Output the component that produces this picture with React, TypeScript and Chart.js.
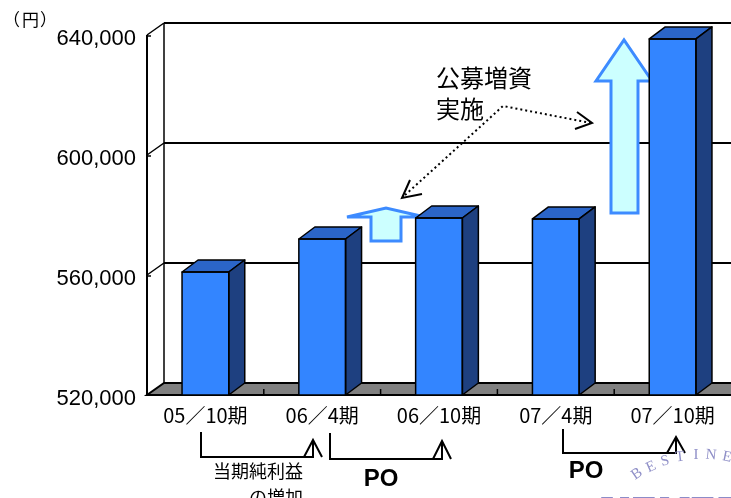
import React, { useEffect, useRef } from "react";
import { Chart, registerables } from "chart.js";

Chart.register(...registerables);

// ---- data ----
const categories = ["05／10期", "06／4期", "06／10期", "07／4期", "07／10期"];
const values = [561000, 572000, 579000, 578700, 638700];
const yTicks = [520000, 560000, 600000, 640000];
const yMin = 520000;
const yMax = 640000;
const yStep = 40000;
const unitParts = ["（", "円", "）"];
const calloutLines = ["公募増資", "実施"];
const noteLines = ["当期純利益", "の増加"];
const poLabel = "PO";
const logoArc = ["B", "E", "S", "T", "I", "N", "E"];
const logoWord = "KENEDIX";

// ---- styles ----
const FRONT = "#3385ff";
const TOP = "#2b65c8";
const SIDE = "#1e4080";
const FLOOR = "#808080";
const ARROW_FILL = "#ccffff";
const ARROW_LINE = "#3d8bff";
const JP = "'Noto Sans CJK JP', sans-serif";
const LAT = "'Liberation Sans', Arial, sans-serif";
const WALL_DX = 17;
const WALL_DY = -12;
const BAR_DX = 16;
const BAR_DY = -12;

function poly(ctx: CanvasRenderingContext2D, pts: number[][], fill?: string, stroke?: string, lw = 1.5) {
  ctx.beginPath();
  ctx.moveTo(pts[0][0], pts[0][1]);
  for (let i = 1; i < pts.length; i++) ctx.lineTo(pts[i][0], pts[i][1]);
  ctx.closePath();
  if (fill) {
    ctx.fillStyle = fill;
    ctx.fill();
  }
  if (stroke) {
    ctx.strokeStyle = stroke;
    ctx.lineWidth = lw;
    ctx.stroke();
  }
}

function line(ctx: CanvasRenderingContext2D, pts: number[][], lw = 1.5, color = "#000") {
  ctx.beginPath();
  ctx.moveTo(pts[0][0], pts[0][1]);
  for (let i = 1; i < pts.length; i++) ctx.lineTo(pts[i][0], pts[i][1]);
  ctx.strokeStyle = color;
  ctx.lineWidth = lw;
  ctx.stroke();
}

const threeD = {
  id: "threeD",
  beforeDatasetsDraw(chart: any) {
    const { ctx, chartArea: ca, scales } = chart;
    const y = scales.y;
    const L = ca.left, R = ca.right, B = ca.bottom, T = ca.top;
    ctx.save();
    ctx.lineJoin = "miter";
    // back wall gridlines + left wall diagonals
    yTicks.forEach((v) => {
      const yf = y.getPixelForValue(v);
      const yb = yf + WALL_DY;
      if (v !== yMin) {
        line(ctx, [[L + WALL_DX, yb], [R + WALL_DX + 20, yb]], 2);
        line(ctx, [[L, yf], [L + WALL_DX, yb]], 1.5);
        line(ctx, [[L, yf + 1], [L + 4, yf + 1]], 1.5);
      }
    });
    // left wall verticals
    line(ctx, [[L, T], [L, B]], 2);
    line(ctx, [[L + WALL_DX, T + WALL_DY], [L + WALL_DX, B + WALL_DY]], 1.5);
    // floor
    poly(ctx, [[L, B], [R + 40, B], [R + 40 + WALL_DX, B + WALL_DY], [L + WALL_DX, B + WALL_DY]], FLOOR, "#000", 2);
    // floor ticks at category boundaries
    const n = categories.length;
    for (let i = 1; i < n; i++) {
      const xb = L + (i * (R - L)) / n;
      line(ctx, [[xb, B], [xb, B - 6]], 1.5);
    }
    // block arrows (behind bars)
    ctx.miterLimit = 3;
    poly(ctx, [[371, 241], [371, 217], [347, 217], [386, 208], [425, 217], [401, 217], [401, 241]], ARROW_FILL, ARROW_LINE, 3);
    poly(ctx, [[611, 213], [611, 81], [596, 81], [624, 40], [652, 81], [638, 81], [638, 213]], ARROW_FILL, ARROW_LINE, 3);
    ctx.restore();
  },
  afterDatasetsDraw(chart: any) {
    const { ctx, chartArea: ca } = chart;
    const meta = chart.getDatasetMeta(0);
    ctx.save();
    ctx.lineJoin = "round";
    meta.data.forEach((bar: any) => {
      const { x, y, base, width } = bar.getProps(["x", "y", "base", "width"], true);
      const b = Math.min(base, ca.bottom);
      const x1 = x - width / 2;
      const x2 = x + width / 2;
      poly(ctx, [[x1, y], [x1 + BAR_DX, y + BAR_DY], [x2 + BAR_DX, y + BAR_DY], [x2, y]], TOP, "#000", 1.5);
      poly(ctx, [[x2, y], [x2 + BAR_DX, y + BAR_DY], [x2 + BAR_DX, b + BAR_DY], [x2, b]], SIDE, "#000", 1.5);
      ctx.strokeStyle = "#000";
      ctx.lineWidth = 1.5;
      ctx.strokeRect(x1, y, width, b - y);
    });
    ctx.restore();
  },
  afterDraw(chart: any) {
    const { ctx } = chart;
    ctx.save();
    ctx.fillStyle = "#000";
    ctx.textBaseline = "middle";
    ctx.textAlign = "left";
    // unit label (proportional spacing like the original)
    ctx.font = `17px ${JP}`;
    ctx.fillText(unitParts[0], 3, 20);
    ctx.fillText(unitParts[1], 22, 20);
    ctx.fillText(unitParts[2], 40, 20);
    // callout text
    ctx.font = `24px ${JP}`;
    ctx.fillText(calloutLines[0], 436, 78);
    ctx.fillText(calloutLines[1], 436, 109);
    // dotted leaders
    ctx.setLineDash([2, 3]);
    line(ctx, [[591, 123], [503, 106], [404, 196]], 2);
    ctx.setLineDash([]);
    line(ctx, [[577, 112], [592, 123], [575, 129]], 2);
    line(ctx, [[410, 180], [402, 198], [422, 194]], 2);
    // brackets
    const brackets = [
      [201, 432, 457, 313, 440],
      [330, 433, 459, 442, 441],
      [563, 429, 453, 676, 437],
    ];
    brackets.forEach(([xs, ys, yh, xe, yt]) => {
      line(ctx, [[xs, ys], [xs, yh], [xe, yh], [xe, yt]], 2);
      line(ctx, [[xe - 9, yh], [xe, yt], [xe + 9, yh]], 2);
    });
    // notes
    ctx.font = `18px ${JP}`;
    ctx.textAlign = "right";
    ctx.fillText(noteLines[0], 303, 471);
    ctx.fillText(noteLines[1], 303, 497);
    ctx.font = `bold 24px ${LAT}`;
    ctx.textAlign = "center";
    ctx.fillText(poLabel, 381, 479);
    ctx.fillText(poLabel, 586, 471);
    // watermark logo
    ctx.fillStyle = "#9090c8";
    ctx.font = `15px 'Liberation Serif', serif`;
    const arcPos = [[637, 474, -0.6], [651, 467, -0.42], [665, 461, -0.26], [680, 457, -0.12], [696, 455, 0], [711, 455, 0.1], [727, 457, 0.2]];
    logoArc.forEach((ch, i) => {
      const [px, py, a] = arcPos[i];
      ctx.save();
      ctx.translate(px, py);
      ctx.rotate(a);
      ctx.fillText(ch, 0, 0);
      ctx.restore();
    });
    ctx.fillStyle = "#8c8cc8";
    ctx.font = `44px 'Liberation Serif', serif`;
    ctx.textAlign = "left";
    ctx.textBaseline = "alphabetic";
    ctx.fillText(logoWord, 600, 526);
    ctx.restore();
  },
};

export default function App() {
  const ref = useRef<HTMLCanvasElement>(null);
  useEffect(() => {
    const chart = new Chart(ref.current as HTMLCanvasElement, {
      type: "bar",
      data: {
        labels: categories,
        datasets: [
          {
            data: values,
            backgroundColor: FRONT,
            borderColor: "#000",
            borderWidth: 0,
            categoryPercentage: 1,
            barPercentage: 0.4,
          },
        ],
      },
      options: {
        responsive: false,
        animation: false,
        devicePixelRatio: 1,
        layout: { padding: { top: 35, right: 0, left: 0, bottom: 0 } },
        plugins: { legend: { display: false }, tooltip: { enabled: false } },
        scales: {
          x: {
            grid: { display: false },
            border: { display: false },
            ticks: {
              color: "#000",
              font: { family: JP, size: 20 },
              padding: 0,
              maxRotation: 0,
              autoSkip: false,
            },
            afterFit: (s: any) => {
              s.height = 103;
            },
          },
          y: {
            min: yMin,
            max: yMax,
            grid: { display: false },
            border: { display: false },
            ticks: {
              stepSize: yStep,
              color: "#000",
              font: { family: LAT, size: 22 },
              padding: 3,
              labelOffset: 4,
              callback: (v: any) => Number(v).toLocaleString("en-US"),
            },
            afterFit: (s: any) => {
              s.width = 147;
            },
          },
        },
      },
      plugins: [threeD],
    });
    return () => chart.destroy();
  }, []);
  return (
    <div style={{ position: "fixed", left: 0, top: 0, width: 731, height: 498, background: "#fff", overflow: "hidden" }}>
      <canvas ref={ref} width={731} height={498} style={{ width: 731, height: 498, display: "block" }} />
    </div>
  );
}
